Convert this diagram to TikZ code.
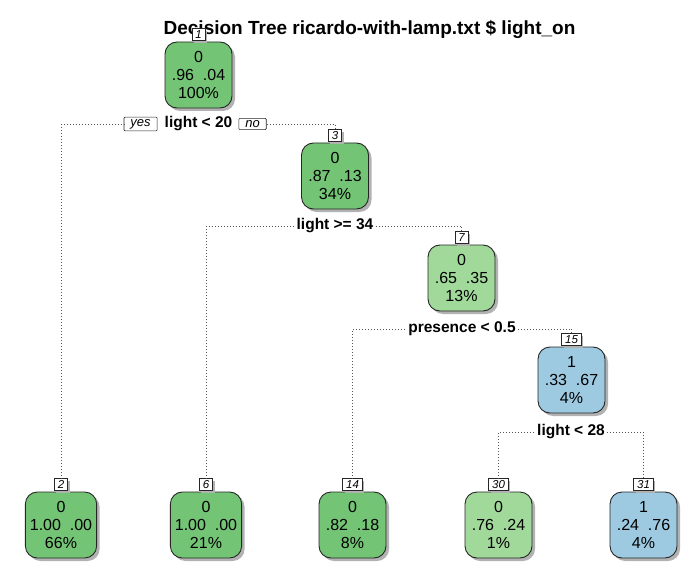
\documentclass[tikz,border=0pt]{standalone}
\usepackage{fontspec}
\setmainfont{Liberation Sans}
\usetikzlibrary{positioning, shadows}
\definecolor{treegreen}{HTML}{74C476}
\definecolor{lightgreen}{HTML}{A1D99B}
\definecolor{treeblue}{HTML}{9ECAE1}
\definecolor{dotgray}{HTML}{555555}

\begin{document}
\begin{tikzpicture}[x=1pt,y=-1pt,
    box/.style={draw=black!85,line width=0.9pt,rounded corners=12pt,
        minimum width=67pt,minimum height=66pt,inner xsep=4.5pt,inner ysep=0pt,
        align=center,font=\fontsize{16}{18}\selectfont,
        drop shadow={shadow xshift=3pt,shadow yshift=-3pt,fill=black!30,opacity=1}},
    zero/.style={box,fill=treegreen},
    zerolight/.style={box,fill=lightgreen},
    one/.style={box,fill=treeblue},
    num/.style={draw=black!85,fill=white,line width=0.6pt,inner xsep=3.5pt,inner ysep=1pt,
        minimum height=12pt,font=\fontsize{11.5}{11.5}\selectfont\itshape,
        drop shadow={shadow xshift=2pt,shadow yshift=-2pt,fill=black!30,opacity=1}},
    split/.style={inner sep=2pt,font=\fontsize{15.5}{15.5}\selectfont\bfseries},
    answer/.style={draw=black!85,fill=white,line width=0.6pt,rounded corners=1pt,
        inner xsep=6.5pt,inner ysep=2pt,font=\fontsize{13}{13}\selectfont\itshape},
    branch/.style={dotgray,line width=0.7pt,dash pattern=on 0.8pt off 2.2pt}]

    \useasboundingbox (0,0) rectangle (698,572);

    \node[font=\fontsize{19}{19}\selectfont\bfseries] (title) at (369.5,29)
        {Decision Tree ricardo-with-lamp.txt \$ light\_on};

    % inner nodes
    \node[zero] (n1) at (198.5,75) {0\\.96\ \ .04\\100\%};
    \node[zero] (n3) at (335,176) {0\\.87\ \ .13\\34\%};
    \node[zerolight] (n7) at (461.5,278) {0\\.65\ \ .35\\13\%};
    \node[one] (n15) at (571.5,380) {1\\.33\ \ .67\\4\%};

    % leaves
    \node[zero] (n2) at (61,525) {0\\1.00\ \ .00\\66\%};
    \node[zero] (n6) at (206,525) {0\\1.00\ \ .00\\21\%};
    \node[zero] (n14) at (352.5,525) {0\\.82\ \ .18\\8\%};
    \node[zerolight] (n30) at (498.5,525) {0\\.76\ \ .24\\1\%};
    \node[one] (n31) at (643.5,525) {1\\.24\ \ .76\\4\%};

    % node numbers
    \node[num] (n1num) [above=0.5pt of n1] {1};
    \node[num] (n3num) [above=0.5pt of n3] {3};
    \node[num] (n7num) [above=0.5pt of n7] {7};
    \node[num] (n15num) [above=0.5pt of n15] {15};
    \node[num] (n2num) [above=0.5pt of n2] {2};
    \node[num] (n6num) [above=0.5pt of n6] {6};
    \node[num] (n14num) [above=0.5pt of n14] {14};
    \node[num] (n30num) [above=0.5pt of n30] {30};
    \node[num] (n31num) [above=0.5pt of n31] {31};

    % split labels
    \node[split] (s1) at (198.5,124) {light < 20};
    \node[split] (s3) at (335,226) {light >= 34};
    \node[split] (s7) at (462,329) {presence < 0.5};
    \node[split] (s15) at (571,432) {light < 28};
    \node[answer] (yes) [left=5pt of s1] {yes};
    \node[answer] (no) [right=4pt of s1] {no};

    % branches
    \draw[branch] (n2num.north) |- (yes.west);
    \draw[branch] (no.east) -| (n3num.north);
    \draw[branch] (n6num.north) |- (s3.west);
    \draw[branch] (s3.east) -| (n7num.north);
    \draw[branch] (n14num.north) |- (s7.west);
    \draw[branch] (s7.east) -| (n15num.north);
    \draw[branch] (n30num.north) |- (s15.west);
    \draw[branch] (s15.east) -| (n31num.north);
\end{tikzpicture}
\end{document}
